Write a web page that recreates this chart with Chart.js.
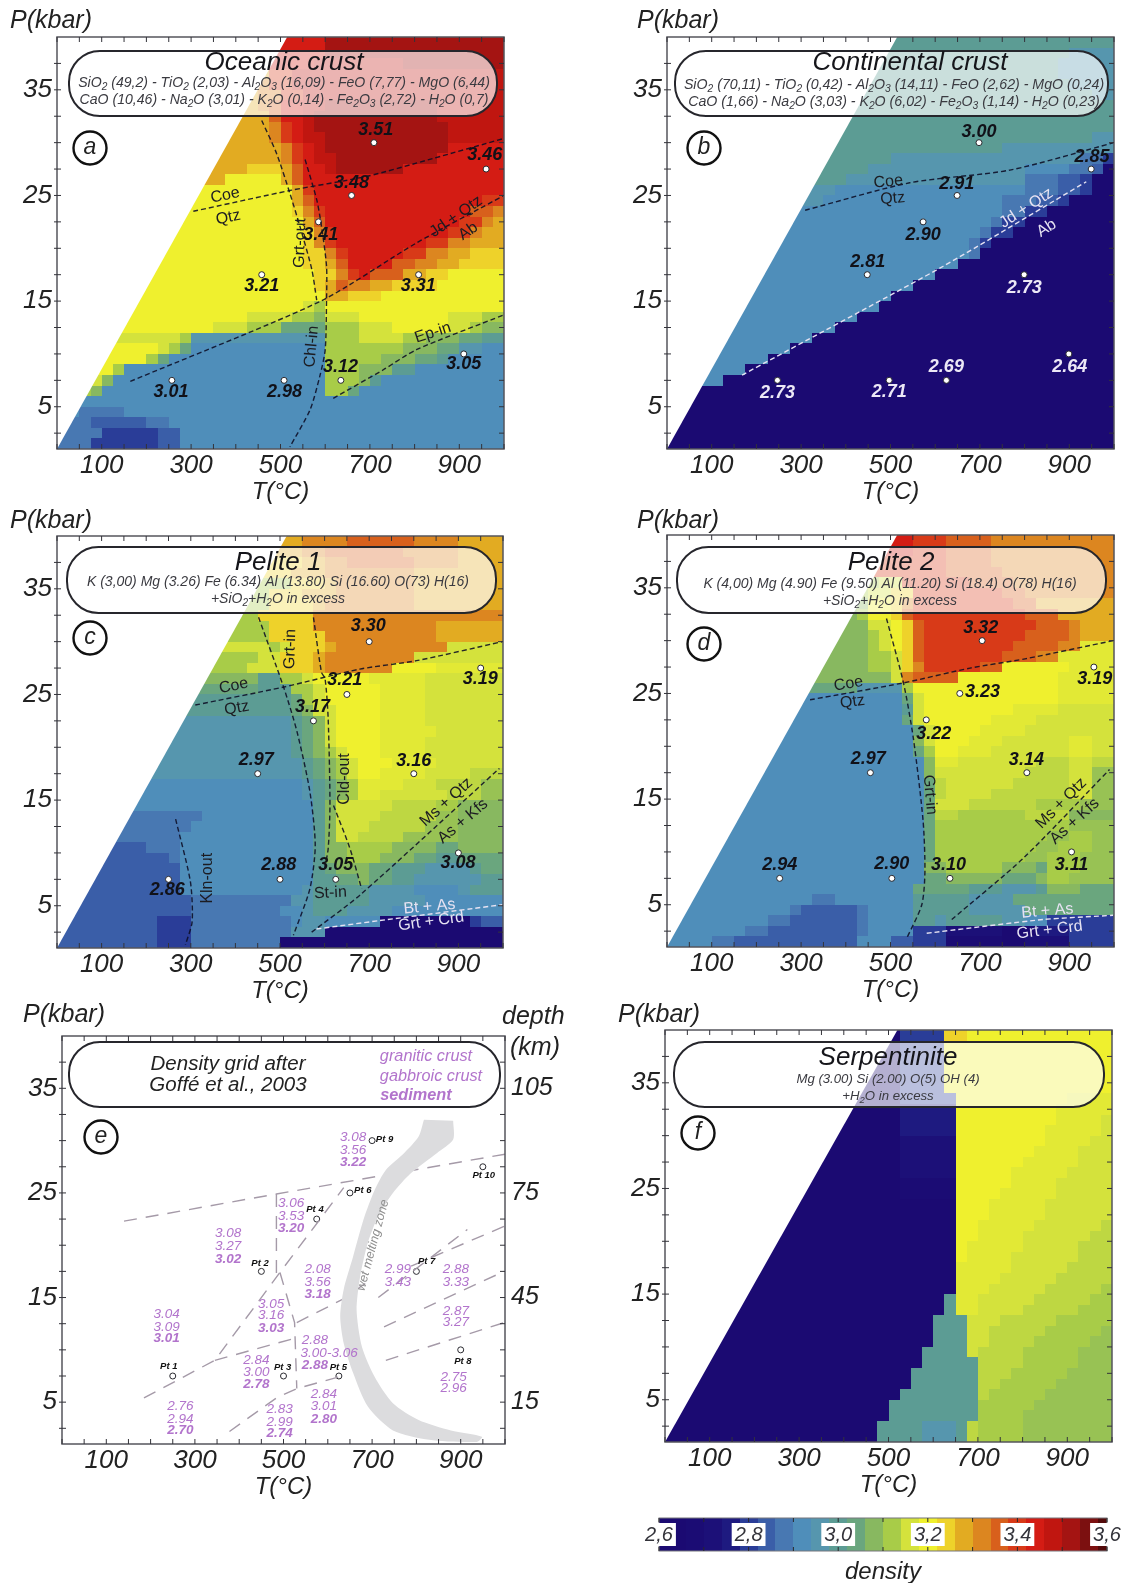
<!DOCTYPE html>
<html>
<head>
<meta charset="utf-8">
<title>Density grids</title>
<script src="https://cdn.jsdelivr.net/npm/chart.js@4"></script>
<style>
    html, body { margin: 0; background: #fff; }
    #page { position: relative; width: 1125px; height: 1583px; overflow: hidden; }
    canvas { position: absolute; }
</style>
</head>
<body>
<div id="page"></div>
<script>
// density colour per letter, a = 2.60 then +0.04 each letter
const densityLetters = 'abcdefghijklmnopqrstuvwxyz';
const densityColors = [
    '#1b0a72', '#1b0a72', '#1b0c74', '#1c1078', '#1e1a80', '#2a3d98', '#3a5ea8', '#4878b2',
    '#4f8eba', '#5696ae', '#5c9c94', '#6aa67e', '#88b860', '#a8cc48', '#d4e23c', '#eff02e',
    '#eed22a', '#e2ab22', '#dc8620', '#d8601c', '#d83a18', '#d41c14', '#c01610', '#a41412',
    '#7c1010', '#520a0a'
];
// half steps for the green-yellow part: M = m/n, N = n/o, O = o/p
const halfLetters = 'MNO';
const halfColors = ['#98c254', '#bed742', '#e2e935'];

const tickLabelsT = [100, 300, 500, 700, 900];
const tickLabelsP = [35, 25, 15, 5];
const ticksP = [2.5, 5, 7.5, 10, 12.5, 15, 17.5, 20, 22.5, 25, 27.5, 30, 32.5, 35, 37.5];
const ticksDepth = [15, 45, 75, 105];

// cells: rows from P=39-40 down to P=1-2, columns of 25 degC, run length coded
const gridA = [
    '24v 16x', '24v 16x', '23v 8w 9x', '19r 2u 19w', '18r 1s 2u 19w', '18r 2s 2u 18w',
    '18r 1s 1t 2v 2w 10x 6w', '19r 1t 2v 1w 11x 6w', '19r 1s 1u 1v 1w 12x 5w', '19r 1s 1u 1v 2w 11x 5w',
    '20r 1s 1u 1v 1w 11x 5v', '20r 1s 1u 1v 2w 9x 6v', '17r 3q 1r 1t 2v 1w 6x 9v', '15r 5p 1r 1t 18v',
    '21p 1r 1u 17v', '21p 1r 1t 15v 2u', '21p 1q 1s 1u 13v 2t 1s', '22p 1r 1t 12v 2u 1s 1r',
    '22p 1q 1s 1u 10v 2u 1s 2r', '22p 1q 1s 1u 8v 2u 2s 3r', '22p 2q 1s 1u 5v 2u 2s 2r 3q',
    '22p 2q 1r 1t 4v 2t 2s 2r 4q', '23p 2q 1s 1u 1v 3t 2r 2q 5p', '23p 1q 1r 1t 2s 2r 4q 6p',
    '24p 2r 3q 11p', '22p 1o 1n 16p', '17p 4o 2n 1m 3o 8p 3o 2n', '14p 3o 3n 4l 3n 3o 5p 2o 1n 2m',
    '11o 1n 12j 3n 4o 2n 3m 2l 2k', '9p 1o 1n 1l 12i 4n 3n 3m 2l 2j 2i', '8p 1n 1l 14i 5n 3m 2l 1k 5i',
    '5p 1n 18i 3n 3m 2k 8i', '4o 1m 19i 3n 1m 1k 11i', '3n 1m 20i 2n 1l 13i', '40i',
    '2i 4h 34i', '3h 5g 2h 30i', '4h 5f 2g 29i', '3h 6f 2g 29i'
];
const gridB = [
    '40k', '36k 4j', '35k 5j', '35k 5j', '36k 4j', '38k 2j', '40k', '40k', '40k', '38k 2j', '30k 10j',
    '20k 17j 2h 1f', '18k 14j 4i 2h 1g 1a', '16k 16j 3h 2g 1f 2a', '15j 17i 3h 2g 1f 2a', '14j 16i 3h 2g 1f 4a',
    '30i 2h 2f 6a', '29i 1h 2f 8a', '28i 1h 2f 9a', '27i 1h 1f 11a', '27i 1h 12a', '26i 14a', '24i 16a',
    '22i 18a', '20i 20a', '19i 21a', '17i 23a', '15i 25a', '13i 27a', '11i 29a', '9i 31a', '7i 33a', '5i 35a',
    '40a', '40a', '40a', '40a', '40a', '40a'
];
const gridC = [
    '22r 4s 6t 4s 4r', '22r 2s 7t 5s 4r', '22q 2r 2s 6t 4s 4r', '21q 3r 8s 8r', '21n 3q 1r 7s 8r',
    '19n 3q 3r 7s 8r', '19n 4q 1r 8s 8r', '18n 5q 17s', '19n 4q 11s 6r', '19n 5q 10s 6r',
    '19o 1n 1o 3q 1r 10s 5o', '18n 2o 3q 1r 8s 8o', '17n 3o 3q 1r 6s 4p 6O', '18m 2k 2n 1o 5p 5O 7o',
    '18l 3k 2n 1o 5p 4O 7o', '21k 1l 1n 1o 5p 4O 7o', '21k 1l 1m 1o 1o 4p 4O 7o', '21j 1k 1l 1m 1o 4p 4O 7o',
    '21j 1k 1l 1m 1o 4p 5O 6o', '21j 1k 1l 1m 1o 4p 4O 7o', '21j 1k 1l 1m 1n 1o 3p 4O 7o', '22j 1k 1l 1m 1n 1o 3p 4O 6o',
    '22j 1k 1l 1m 1n 1o 2p 4O 4o 3N', '22i 1j 1k 1l 1m 1n 4O 3o 4N 2M', '22i 1j 1k 1l 1m 1n 2O 6o 3N 2M',
    '23i 1k 1m 5o 4N 2n 4m', '13h 10i 1k 1m 4o 5N 2M 4m', '12h 11i 1k 1m 3o 5N 3M 4m', '11h 12i 1k 1m 2o 4N 5M 4m',
    '8g 3h 12i 1k 2m 4n 4m 2l 4m', '10g 1h 12i 1k 2m 3n 3m 2l 2k 4l', '11g 12i 1k 1l 1m 2m 2l 3k 4j 1k 2l',
    '11g 12i 2k 2l 1m 2l 2k 3j 3j 2k', '11g 11i 1j 5k 4j 4i 1j 3k', '12g 9h 2j 5k 5j 3i 4i',
    '12g 8h 2i 1j 3k 4j 10i', '9g 3f 9h 1i 2j 5i 8a 1f 2g', '9g 3f 9h 3j 16a', '9g 3f 8h 20a'
];
const gridD = [
    '22v 3u 4t 11s', '22v 3u 4t 11s', '25u 4t 11s', '25u 5t 10s', '19n 2o 6u 4t 9s', '18n 2o 2q 8u 2t 8s',
    '18m 2p 1q 1s 9u 2t 7r', '17m 1n 2p 1q 1t 10u 3t 5r', '18m 2o 1p 1q 1t 10u 3t 1s 3r',
    '18m 1n 1o 1p 1q 1t 9u 4t 1s 3r', '18m 1n 1o 1p 1q 1t 8u 4t 2s 3O', '18m 2n 1o 1q 1t 7u 3t 2s 5O',
    '18m 2n 1o 1q 1s 5u 2t 6p 4O', '20m 1o 1s 4t 9p 5O', '17l 4j 1n 13p 5O', '21i 1l 1o 12p 5O', '21i 1k 1o 8p 4O 5o',
    '21i 1l 1o 6p 4O 7o', '22i 1l 1o 4p 4O 8o', '22i 1m 1o 3p 3O 6o 2O 2o', '22i 1l 1n 2p 3O 7o 2O 2o',
    '23i 1m 2O 7o 3N 2o 2N', '23i 1m 8o 4N 2o 2M', '23i 1l 1N 6o 5N 2o 2M', '23i 1l 1N 4o 7N 2o 2M',
    '23i 1l 3o 6N 4n 3M', '23i 1l 2N 6n 4N 4m', '23i 1l 12n 4M', '23i 1l 10n 2M 2n 2M', '23i 1l 9n 2M 3n 2M',
    '23i 1l 8n 2M 3n 3M', '23i 2m 5n 3m 1l 3n 3M', '23i 2l 3m 2m 3l 1m 2n 4M', '22i 5l 3k 3j 1k 3m 3l',
    '13i 2h 7i 5k 3j 1j 6l 3l', '11i 1h 5g 1h 4i 5k 3j 2j 8l', '9i 2h 6g 1h 4i 2k 1j 5k 2j 2i 6f',
    '7i 2h 8g 1h 4i 3f 5d 3b 3e 4f', '4i 2h 11g 3i 2g 3f 5c 2a 4d 4f'
];
const gridF = [
    '21a 4f 2q 13p', '21a 4f 15p', '21a 4f 15p', '21a 4f 15p', '21a 4f 15p', '21a 4f 15p',
    '21a 5f 10p 4O', '21a 5e 9p 5O', '21a 5e 9p 4O 1o', '21a 5e 8p 5O 1o', '21a 5d 8p 4O 2o', '21a 5d 7p 4O 3o',
    '21a 5d 6p 5O 3o', '21a 5d 5p 5O 4o', '21a 5c 5p 4O 5o', '21a 5c 4p 5O 5o', '21a 5b 3p 5O 6o', '26a 3p 5O 6o',
    '26a 2p 5O 6o 1N', '26a 2p 4O 6o 2N', '26a 1p 5O 5o 3N', '26a 1p 4O 6o 3N', '26a 5O 5o 4N', '26a 4O 5o 5N',
    '26a 3O 5o 5N 1n', '25a 1k 2O 5o 5N 2n', '25a 1k 2O 4o 5N 3n', '24a 3k 3o 5N 5n', '24a 3k 2o 5N 5n 1M', '24a 3k 2o 4N 5n 2M',
    '23a 4k 1o 4N 5n 3M', '23a 5k 4N 5n 3M', '22a 6k 3N 5n 4M', '22a 6k 2N 5n 5M', '21a 7k 1N 5n 6M', '20a 8k 5n 7M',
    '20a 8k 4n 8M', '19a 4k 3j 1k 1N 4n 8M', '19a 4k 3j 1k 1N 4n 8M'
];

// sample points, same order in every panel: Pt9 Pt10 Pt6 Pt4 Pt2 Pt7 Pt1 Pt3 Pt5 Pt8
const pointsP = [30, 27.5, 25, 22.5, 17.5, 17.5, 7.5, 7.5, 7.5, 10];
const pointsTA = [709, 960, 659, 585, 458, 809, 257, 508, 635, 910];
const pointsTB = [698, 949, 649, 573, 448, 799, 247, 497, 625, 899];
const pointsTC = [700, 950, 650, 575, 450, 800, 250, 500, 625, 900];
const pointsTD = [705, 955, 655, 580, 455, 805, 252, 503, 633, 905];
const pointsTE = [700, 950, 650, 575, 450, 800, 250, 500, 625, 900];

// reaction lines as [T, P]
const linesA = [
    [[305, 23.5], [525, 25.5], [692, 26.8], [841, 28.5], [1000, 30.4]],
    [[458, 32.1], [491, 29], [521, 25.2], [544, 22], [570, 18], [581, 15.1]],
    [[555, 28.4], [581, 24.6], [592, 22], [603, 18.3], [603, 15.1], [600, 10.4], [588, 7.9], [566, 4.7], [521, 1.2]],
    [[164, 7.4], [590, 15], [804, 20.5], [1000, 25]],
    [[618, 5.8], [730, 8.5], [804, 10.4], [1000, 13.7]]
];
const linesB = [
    [[309, 23.6], [543, 26.2], [767, 27.4], [1000, 30]]
];
const lightLinesB = [
    [[168, 8], [618, 18.3], [938, 26.3]]
];
const linesC = [
    [[310, 24], [508, 25.7], [679, 27.4], [806, 28.2], [999, 30]],
    [[452, 32.3], [508, 25.7], [538, 21.5], [567, 15.8], [579, 10.7], [567, 6.6], [530, 2.2]],
    [[575, 32.3], [593, 27.1], [601, 26.5], [608, 22.7], [612, 14.5], [608, 10.4], [600, 8.5]],
    [[620, 14.5], [657, 10.4], [683, 6.6]],
    [[571, 2.5], [679, 6], [992, 18]],
    [[266, 13.2], [299, 7.3], [303, 3.5], [288, 1.3]]
];
const lightLinesC = [
    [[582, 2.8], [724, 3.6], [999, 5.1]]
];
const linesD = [
    [[320, 24.4], [529, 26], [678, 27.4], [804, 28.3], [998, 30]],
    [[491, 32.1], [529, 26], [551, 20.8], [573, 12.9], [577, 8.1], [570, 5], [536, 1.8]],
    [[637, 3.6], [797, 9.4], [990, 17.8]]
];
const lightLinesD = [
    [[581, 2.3], [841, 3.6], [998, 4]]
];
const linesE = [
    [[140, 22.3], [484, 24.9], [1000, 28.7]],
    [[484, 24.9], [484, 17]],
    [[492, 17.4], [525, 12.6], [530, 6.3]],
    [[530, 12.6], [632, 14.8], [690, 16.5]],
    [[345, 9], [525, 11.1]],
    [[185, 5.4], [345, 9], [492, 17.4], [636, 25.5]],
    [[378, 2.2], [484, 5.4], [530, 6.3], [624, 7.4]],
    [[714, 15], [915, 21.5]],
    [[727, 12.2], [998, 17.5]],
    [[731, 9], [998, 12.6]],
    [[788, 18], [998, 21.8]]
];
const meltingZone = [
    [883, 31.9], [883, 30.1], [846, 28.8], [788, 26.9], [747, 25], [714, 22.8], [690, 20.2], [673, 17],
    [665, 13.8], [677, 10.3], [706, 7.4], [747, 4.9], [805, 3.3], [878, 2.3], [948, 1.7], [936, 1.2],
    [829, 1.4], [747, 2.3], [690, 4.6], [657, 7.8], [636, 10.6], [628, 13.2], [636, 15.8], [657, 18.9],
    [681, 22.5], [706, 25.3], [731, 27.2], [772, 28.8], [805, 30.4], [817, 32]
];

// density numbers: text, T, P
const densA = [
    ['3.51', 713, 31.2], ['3.46', 957, 28.8], ['3.48', 659, 26.2], ['3.41', 590, 21.3], ['3.21', 458, 16.4],
    ['3.31', 808, 16.4], ['3.12', 634, 8.8], ['3.01', 255, 6.4], ['2.98', 509, 6.4], ['3.05', 910, 9]
];
const densB = [
    ['3.00', 698, 31], ['2.85', 951, 28.6], ['2.91', 648, 26.1], ['2.90', 573, 21.3], ['2.81', 449, 18.7]
];
const densWhiteB = [
    ['2.73', 799, 16.2], ['2.69', 625, 8.8], ['2.64', 901, 8.8], ['2.73', 247, 6.3], ['2.71', 497, 6.4]
];
const densC = [
    ['3.30', 698, 31.5], ['3.19', 949, 26.5], ['3.21', 645, 26.4], ['3.17', 573, 23.8], ['2.97', 447, 18.8],
    ['3.16', 800, 18.7], ['2.86', 247, 6.5], ['2.88', 497, 8.9], ['3.05', 625, 8.9], ['3.08', 899, 9]
];
const densD = [
    ['3.32', 702, 31.2], ['3.19', 957, 26.4], ['3.23', 706, 25.1], ['3.22', 597, 21.2], ['2.97', 450, 18.8],
    ['3.14', 804, 18.7], ['2.94', 252, 8.8], ['2.90', 503, 8.9], ['3.10', 630, 8.8], ['3.11', 905, 8.8]
];

// phase names: text, T, P, angle
const namesA = [
    ['Coe', 376, 25, -12], ['Qtz', 383, 22.9, -12], ['Grt-out', 544, 20.5, -88], ['Chl-in', 570, 10.7, -85],
    ['Jd + Qtz', 893, 23, -35], ['Ab', 920, 21.6, -35], ['Ep-in', 841, 12, -18]
];
const namesB = [['Coe', 495, 26.3, -5], ['Qtz', 505, 24.7, -5]];
const namesWhiteB = [['Jd + Qtz', 804, 23.8, -33], ['Ab', 849, 21.9, -33]];
const namesC = [
    ['Coe', 396, 25.8, -12], ['Qtz', 403, 23.7, -10], ['Grt-in', 523, 29.3, -88], ['Cld-out', 645, 17, -90],
    ['St-in', 613, 6.2, -3], ['Kln-out', 337, 7.6, -90], ['Ms + Qtz', 873, 14.8, -42], ['As + Kfs', 910, 13, -40]
];
const namesWhiteC = [['Bt + As', 835, 4.9, -5], ['Grt + Crd', 839, 3.5, -8]];
const namesD = [
    ['Coe', 406, 25.9, -10], ['Qtz', 415, 24.2, -8], ['Grt-in', 588, 15.4, 85],
    ['Ms + Qtz', 882, 14.6, -45], ['As + Kfs', 912, 12.9, -42]
];
const namesWhiteD = [['Bt + As', 851, 4.4, -5], ['Grt + Crd', 856, 2.6, -7]];

// panel e numbers: text, T, P, bold
const gridNumbersE = [
    ['3.08', 657, 30.3], ['3.56', 657, 29.1], ['3.22', 657, 27.9, 1],
    ['3.06', 517, 24], ['3.53', 517, 22.8], ['3.20', 517, 21.6, 1],
    ['3.08', 375, 21.1], ['3.27', 375, 19.9], ['3.02', 375, 18.7, 1],
    ['2.08', 577, 17.7], ['3.56', 577, 16.5], ['3.18', 577, 15.3, 1],
    ['3.05', 472, 14.4], ['3.16', 472, 13.3], ['3.03', 472, 12.1, 1],
    ['3.04', 236, 13.4], ['3.09', 236, 12.2], ['3.01', 236, 11.1, 1],
    ['2.88', 571, 10.9], ['3.00-3.06', 603, 9.7], ['2.88', 571, 8.5, 1],
    ['2.84', 439, 9], ['3.00', 439, 7.9], ['2.78', 439, 6.7, 1],
    ['2.84', 591, 5.8], ['3.01', 591, 4.6], ['2.80', 591, 3.4, 1],
    ['2.83', 491, 4.3], ['2.99', 491, 3.1], ['2.74', 491, 2, 1],
    ['2.76', 267, 4.6], ['2.94', 267, 3.4], ['2.70', 267, 2.3, 1],
    ['2.99', 758, 17.7], ['3.43', 758, 16.5],
    ['2.88', 889, 17.7], ['3.33', 889, 16.5],
    ['2.87', 889, 13.7], ['3.27', 889, 12.6],
    ['2.75', 884, 7.4], ['2.96', 884, 6.3]
];
const pointNamesE = [
    ['Pt 1', 241, 8.4], ['Pt 2', 447, 18.3], ['Pt 3', 498, 8.3], ['Pt 4', 571, 23.4], ['Pt 5', 624, 8.3],
    ['Pt 6', 679, 25.2], ['Pt 7', 823, 18.5], ['Pt 8', 905, 8.9], ['Pt 9', 728, 30.1], ['Pt 10', 952, 26.7]
];

const scaleTicks = [2.6, 2.7, 2.8, 2.9, 3.0, 3.1, 3.2, 3.3, 3.4, 3.5, 3.6];
const scaleLabels = ['2,6', '2,8', '3,0', '3,2', '3,4', '3,6'];

const FONT = '"Liberation Sans", Arial, sans-serif';
const DARK = '#1c1c22';
const PURPLE = '#b274cc';
const LILAC = '#a59aa8';

function cellColor(letter) {
    const half = halfLetters.indexOf(letter);
    return half >= 0 ? halfColors[half] : densityColors[densityLetters.indexOf(letter)];
}

// "24v 16x" -> 24 cells v then 16 cells x
function decodeRow(row) {
    let out = '';
    row.split(' ').forEach(run => {
        out += run.slice(-1).repeat(parseInt(run));
    });
    return out;
}

function toXY(pts) {
    return pts.map(p => ({ x: p[0], y: p[1] }));
}

function lineDataset(pts, color, dash, width, tension) {
    return {
        data: toXY(pts),
        borderColor: color,
        borderWidth: width,
        borderDash: dash,
        pointRadius: 0,
        fill: false,
        tension: tension
    };
}

// SiO_2 style text with subscripts, centered on cx
function drawRich(ctx, text, cx, y, size, style) {
    const parts = text.split(/_(\d)/);
    const mainFont = `${style} ${size}px ${FONT}`;
    const subFont = `${style} ${size * 0.72}px ${FONT}`;
    let total = 0;
    parts.forEach((p, i) => {
        ctx.font = i % 2 ? subFont : mainFont;
        total += ctx.measureText(p).width;
    });
    let x = cx - total / 2;
    ctx.textAlign = 'left';
    ctx.textBaseline = 'middle';
    parts.forEach((p, i) => {
        ctx.font = i % 2 ? subFont : mainFont;
        ctx.fillText(p, x, i % 2 ? y + size * 0.3 : y);
        x += ctx.measureText(p).width;
    });
}

function drawList(chart, list, font, color, angled) {
    const ctx = chart.ctx;
    const sx = chart.scales.x, sy = chart.scales.y;
    ctx.fillStyle = color;
    ctx.textAlign = 'center';
    ctx.textBaseline = 'middle';
    list.forEach(item => {
        ctx.save();
        ctx.font = typeof font === 'function' ? font(item) : font;
        ctx.translate(sx.getPixelForValue(item[1]), sy.getPixelForValue(item[2]));
        if (angled) ctx.rotate(item[3] * Math.PI / 180);
        ctx.fillText(item[0], 0, 0);
        ctx.restore();
    });
}

function panelPlugin(p, originX, originY) {
    return {
        id: 'panel' + p.id,
        beforeDatasetsDraw(chart) {
            if (!p.grid) return;
            const ctx = chart.ctx;
            const sx = chart.scales.x, sy = chart.scales.y;
            // every cell goes through the axes
            p.grid.forEach((row, r) => {
                const cells = decodeRow(row);
                const top = 40 - r;
                for (let c = 0; c < cells.length; c++) {
                    const x0 = Math.round(sx.getPixelForValue(c * 25));
                    const x1 = Math.round(sx.getPixelForValue((c + 1) * 25));
                    const y0 = Math.round(sy.getPixelForValue(top));
                    const y1 = Math.round(sy.getPixelForValue(top - 1));
                    ctx.fillStyle = cellColor(cells[c]);
                    ctx.fillRect(x0, y0, x1 - x0, y1 - y0);
                }
            });
        },
        afterDatasetsDraw(chart) {
            const ctx = chart.ctx;
            const area = chart.chartArea;
            const sx = chart.scales.x, sy = chart.scales.y;
            ctx.save();

            // frame and inward ticks
            ctx.strokeStyle = '#55555c';
            ctx.lineWidth = 1.5;
            ctx.strokeRect(area.left, area.top, area.right - area.left, area.bottom - area.top);
            ctx.strokeStyle = '#33333a';
            ctx.lineWidth = 1;
            ctx.beginPath();
            sx.ticks.forEach(t => {
                const x = sx.getPixelForValue(t.value);
                ctx.moveTo(x, area.top); ctx.lineTo(x, area.top + 5);
                ctx.moveTo(x, area.bottom); ctx.lineTo(x, area.bottom - 5);
            });
            sy.ticks.forEach(t => {
                const y = sy.getPixelForValue(t.value);
                ctx.moveTo(area.left - 3, y); ctx.lineTo(area.left + 4, y);
                ctx.moveTo(area.right, y); ctx.lineTo(area.right - 5, y);
            });
            ctx.stroke();

            drawList(chart, p.names || [], `16px ${FONT}`, DARK, true);
            drawList(chart, p.namesWhite || [], `16px ${FONT}`, '#e6e2f2', true);
            drawList(chart, p.dens || [], `italic bold 18px ${FONT}`, '#111118', false);
            drawList(chart, p.densWhite || [], `italic bold 18px ${FONT}`, '#ece8f6', false);
            if (p.numbers) {
                drawList(chart, p.numbers, item => `italic ${item[3] ? 'bold ' : ''}13.5px ${FONT}`, PURPLE, false);
                drawList(chart, pointNamesE, `italic bold 9.5px ${FONT}`, '#111', false);
                ctx.save();
                ctx.translate(sx.getPixelForValue(702), sy.getPixelForValue(20));
                ctx.rotate(-75 * Math.PI / 180);
                ctx.fillStyle = '#8f8f8f';
                ctx.font = `italic 12.5px ${FONT}`;
                ctx.textAlign = 'center';
                ctx.textBaseline = 'middle';
                ctx.fillText('wet melting zone', 0, 0);
                ctx.restore();
            }

            // rounded title box
            const b = p.box;
            ctx.beginPath();
            ctx.roundRect(b[0] - originX, b[1] - originY, b[2] - b[0], b[3] - b[1], (b[3] - b[1]) / 2.1);
            ctx.fillStyle = 'rgba(255,255,255,0.68)';
            ctx.fill();
            ctx.strokeStyle = '#26262c';
            ctx.lineWidth = 2;
            ctx.stroke();

            (p.boxTexts || []).forEach(t => {
                ctx.fillStyle = t.color || '#3a3a40';
                drawRich(ctx, t.text, t.x - originX, t.y - originY, t.size, t.style || 'italic');
            });

            // panel letter
            ctx.beginPath();
            ctx.arc(p.letterAt[0] - originX, p.letterAt[1] - originY, 16.5, 0, Math.PI * 2);
            ctx.fillStyle = '#fff';
            ctx.fill();
            ctx.strokeStyle = '#111';
            ctx.lineWidth = 2.4;
            ctx.stroke();
            ctx.fillStyle = '#222';
            ctx.font = `italic 23px ${FONT}`;
            ctx.textAlign = 'center';
            ctx.textBaseline = 'middle';
            ctx.fillText(p.id, p.letterAt[0] - originX, p.letterAt[1] - originY);

            // P(kbar) heading, depth heading on panel e
            ctx.fillStyle = '#222';
            ctx.font = `italic 25px ${FONT}`;
            ctx.textAlign = 'left';
            ctx.fillText('P(kbar)', p.titleAt[0] - originX, p.titleAt[1] - originY);
            if (p.depth) {
                ctx.font = `italic 25px ${FONT}`;
                ctx.fillText('depth', 502 - originX, 1017 - originY);
                ctx.fillText('(km)', 510 - originX, 1048 - originY);
            }
            ctx.restore();
        }
    };
}

function addPanel(p) {
    const [l, t, r, b] = p.plot;
    const rightPad = p.depth ? 70 : 11;
    const originX = l - 57, originY = t - 37;
    const canvas = document.createElement('canvas');
    canvas.width = 57 + (r - l) + rightPad;
    canvas.height = 37 + (b - t) + 58;
    canvas.style.left = originX + 'px';
    canvas.style.top = originY + 'px';
    document.getElementById('page').appendChild(canvas);

    const datasets = [];
    if (p.maskT) {
        // white corner above the stability limit
        datasets.push({
            data: toXY([[0, 1], [p.maskT, 40], [0, 40]]),
            borderWidth: 0,
            pointRadius: 0,
            backgroundColor: '#fff',
            fill: 'shape'
        });
    }
    if (p.zone) {
        datasets.push({
            data: toXY(p.zone),
            borderWidth: 0,
            pointRadius: 0,
            backgroundColor: '#dcdcde',
            fill: 'shape',
            tension: 0.25
        });
    }
    (p.lines || []).forEach(l => datasets.push(p.depth
        ? lineDataset(l, LILAC, [13, 9], 1.4, 0)
        : lineDataset(l, 'rgba(12,12,36,0.88)', [5, 3], 1.4, 0.25)));
    (p.lightLines || []).forEach(l => datasets.push(lineDataset(l, '#e6e2f2', [5, 3], 1.4, 0.2)));
    datasets.push({
        data: p.pointsT.map((v, i) => ({ x: v, y: pointsP[i] })),
        showLine: false,
        pointRadius: 3,
        pointBackgroundColor: '#fff',
        pointBorderColor: '#2a2a30',
        pointBorderWidth: 1
    });

    const scales = {
        x: {
            type: 'linear',
            min: 0,
            max: 1000,
            grid: { display: false, drawTicks: false },
            border: { display: false },
            ticks: {
                stepSize: 50,
                autoSkip: false,
                maxRotation: 0,
                padding: 1,
                color: '#222',
                font: { family: FONT, size: 26, style: 'italic' },
                callback: v => tickLabelsT.includes(v) ? String(v) : ''
            },
            title: {
                display: true,
                text: 'T(°C)',
                color: '#222',
                font: { family: FONT, size: 24, style: 'italic' },
                padding: { top: 0, bottom: 0 }
            },
            afterFit: s => { s.height = 58; }
        },
        y: {
            type: 'linear',
            min: 1,
            max: 40,
            grid: { display: false, drawTicks: false },
            border: { display: false },
            afterBuildTicks: s => { s.ticks = ticksP.map(v => ({ value: v })); },
            ticks: {
                autoSkip: false,
                padding: 5,
                color: '#222',
                font: { family: FONT, size: 26, style: 'italic' },
                callback: v => tickLabelsP.includes(v) ? String(v) : ''
            },
            afterFit: s => { s.width = 57; }
        }
    };
    if (p.depth) {
        scales.depth = {
            type: 'linear',
            position: 'right',
            min: 3,
            max: 120,
            grid: { display: false, drawTicks: false },
            border: { display: false },
            afterBuildTicks: s => { s.ticks = ticksDepth.map(v => ({ value: v })); },
            ticks: {
                padding: 6,
                color: '#222',
                font: { family: FONT, size: 25, style: 'italic' }
            },
            afterFit: s => { s.width = 70; }
        };
    }

    new Chart(canvas, {
        type: 'line',
        data: { datasets },
        options: {
            responsive: false,
            animation: false,
            devicePixelRatio: 1,
            events: [],
            layout: {
                autoPadding: false,
                padding: { top: 37, right: p.depth ? 0 : rightPad, left: 0, bottom: 0 }
            },
            plugins: { legend: { display: false }, tooltip: { enabled: false } },
            scales
        },
        plugins: [panelPlugin(p, originX, originY)]
    });
}

addPanel({
    id: 'a', plot: [57, 37, 504, 449], grid: gridA, maskT: 515, lines: linesA, pointsT: pointsTA,
    names: namesA, dens: densA, box: [69, 51, 497, 116], letterAt: [90, 148], titleAt: [10, 21],
    boxTexts: [
        { text: 'Oceanic crust', x: 284, y: 63, size: 26, color: '#15151a' },
        { text: 'SiO_2 (49,2) - TiO_2 (2,03) - Al_2O_3 (16,09) - FeO (7,77) - MgO (6,44)', x: 284, y: 83, size: 14.1 },
        { text: 'CaO (10,46) - Na_2O (3,01) - K_2O (0,14) - Fe_2O_3 (2,72) - H_2O (0,7)', x: 284, y: 100, size: 14.1 }
    ]
});
addPanel({
    id: 'b', plot: [667, 37, 1114, 449], grid: gridB, maskT: 515, lines: linesB, lightLines: lightLinesB, pointsT: pointsTB,
    names: namesB, namesWhite: namesWhiteB, dens: densB, densWhite: densWhiteB,
    box: [675, 51, 1108, 116], letterAt: [704, 148], titleAt: [637, 21],
    boxTexts: [
        { text: 'Continental crust', x: 910, y: 63, size: 26, color: '#15151a' },
        { text: 'SiO_2 (70,11) - TiO_2 (0,42) - Al_2O_3 (14,11) - FeO (2,62) - MgO (0,24)', x: 894, y: 85, size: 14.2 },
        { text: 'CaO (1,66) - Na_2O (3,03) - K_2O (6,02) - Fe_2O_3 (1,14) - H_2O (0,23)', x: 894, y: 102, size: 14.2 }
    ]
});
addPanel({
    id: 'c', plot: [57, 536, 503, 948], grid: gridC, maskT: 515, lines: linesC, lightLines: lightLinesC, pointsT: pointsTC,
    names: namesC, namesWhite: namesWhiteC, dens: densC,
    box: [67, 547, 496, 613], letterAt: [90, 638], titleAt: [10, 521],
    boxTexts: [
        { text: 'Pelite 1', x: 278, y: 563, size: 26, color: '#15151a' },
        { text: 'K (3,00) Mg (3.26) Fe (6.34) Al (13.80) Si (16.60) O(73) H(16)', x: 278, y: 582, size: 14 },
        { text: '+SiO_2+H_2O in excess', x: 278, y: 599, size: 14 }
    ]
});
addPanel({
    id: 'd', plot: [667, 535, 1114, 947], grid: gridD, maskT: 515, lines: linesD, lightLines: lightLinesD, pointsT: pointsTD,
    names: namesD, namesWhite: namesWhiteD, dens: densD,
    box: [677, 547, 1106, 613], letterAt: [704, 644], titleAt: [637, 521],
    boxTexts: [
        { text: 'Pelite 2', x: 891, y: 563, size: 26, color: '#15151a' },
        { text: 'K (4,00) Mg (4.90) Fe (9.50) Al (11.20) Si (18.4) O(78) H(16)', x: 890, y: 584, size: 14 },
        { text: '+SiO_2+H_2O in excess', x: 890, y: 601, size: 14 }
    ]
});
addPanel({
    id: 'e', plot: [62, 1036, 505, 1444], zone: meltingZone, lines: linesE, pointsT: pointsTE, numbers: gridNumbersE, depth: true,
    box: [69, 1042, 500, 1107], letterAt: [101, 1137], titleAt: [23, 1015],
    boxTexts: [
        { text: 'Density grid after', x: 228, y: 1064, size: 20.5, color: '#222' },
        { text: 'Goffé et al., 2003', x: 228, y: 1085, size: 20.5, color: '#222' },
        { text: 'granitic crust', x: 426, y: 1056, size: 16.3, color: PURPLE },
        { text: 'gabbroic crust', x: 431, y: 1076, size: 16.3, color: PURPLE },
        { text: 'sediment', x: 416, y: 1096, size: 16.3, color: PURPLE, style: 'italic bold' }
    ]
});
addPanel({
    id: 'f', plot: [665, 1030, 1112, 1442], grid: gridF, maskT: 520, pointsT: [], box: [674, 1042, 1104, 1107],
    letterAt: [698, 1133], titleAt: [618, 1015],
    boxTexts: [
        { text: 'Serpentinite', x: 888, y: 1058, size: 26, color: '#15151a' },
        { text: 'Mg (3.00) Si (2.00) O(5) OH (4)', x: 888, y: 1079, size: 13.2 },
        { text: '+H_2O in excess', x: 888, y: 1096, size: 13.2 }
    ]
});

// colour scale under panel f, same letters as the cells
(function addColorScale() {
    const originX = 620, originY = 1500;
    const canvas = document.createElement('canvas');
    canvas.width = 505;
    canvas.height = 83;
    canvas.style.left = originX + 'px';
    canvas.style.top = originY + 'px';
    document.getElementById('page').appendChild(canvas);

    new Chart(canvas, {
        type: 'line',
        data: { datasets: [{ data: [], pointRadius: 0 }] },
        options: {
            responsive: false,
            animation: false,
            devicePixelRatio: 1,
            events: [],
            layout: { autoPadding: false, padding: { left: 39, right: 18, top: 18, bottom: 32 } },
            plugins: { legend: { display: false }, tooltip: { enabled: false } },
            scales: {
                x: { type: 'linear', min: 2.6, max: 3.6, display: false },
                y: { type: 'linear', min: 0, max: 1, display: false }
            }
        },
        plugins: [{
            id: 'colorScale',
            afterDatasetsDraw(chart) {
                const ctx = chart.ctx;
                const sx = chart.scales.x;
                const area = chart.chartArea;
                ctx.save();
                densityColors.forEach((c, i) => {
                    const mid = 2.6 + i * 0.04;
                    const x0 = Math.round(sx.getPixelForValue(Math.max(2.6, mid - 0.02)));
                    const x1 = Math.round(sx.getPixelForValue(Math.min(3.6, mid + 0.02)));
                    ctx.fillStyle = c;
                    ctx.fillRect(x0, area.top, x1 - x0, area.bottom - area.top);
                });
                ctx.strokeStyle = '#77777c';
                ctx.lineWidth = 1;
                ctx.strokeRect(area.left, area.top, area.right - area.left, area.bottom - area.top);
                ctx.strokeStyle = '#2a2a2a';
                ctx.beginPath();
                scaleTicks.forEach(v => {
                    const x = sx.getPixelForValue(v);
                    ctx.moveTo(x, area.top); ctx.lineTo(x, area.top + 4);
                    ctx.moveTo(x, area.bottom); ctx.lineTo(x, area.bottom - 4);
                });
                ctx.stroke();

                ctx.font = `italic 20px ${FONT}`;
                ctx.textAlign = 'center';
                ctx.textBaseline = 'middle';
                scaleLabels.forEach(label => {
                    const x = sx.getPixelForValue(parseFloat(label.replace(',', '.')));
                    const w = ctx.measureText(label).width + 6;
                    ctx.fillStyle = '#fff';
                    ctx.fillRect(x - w / 2, area.top + 5, w, area.bottom - area.top - 10);
                    ctx.fillStyle = '#33333a';
                    ctx.fillText(label, x, (area.top + area.bottom) / 2 + 1);
                });
                ctx.fillStyle = '#222';
                ctx.font = `italic 24px ${FONT}`;
                ctx.fillText('density', 883 - originX, 1572 - originY);
                ctx.restore();
            }
        }]
    });
})();
</script>
</body>
</html>
